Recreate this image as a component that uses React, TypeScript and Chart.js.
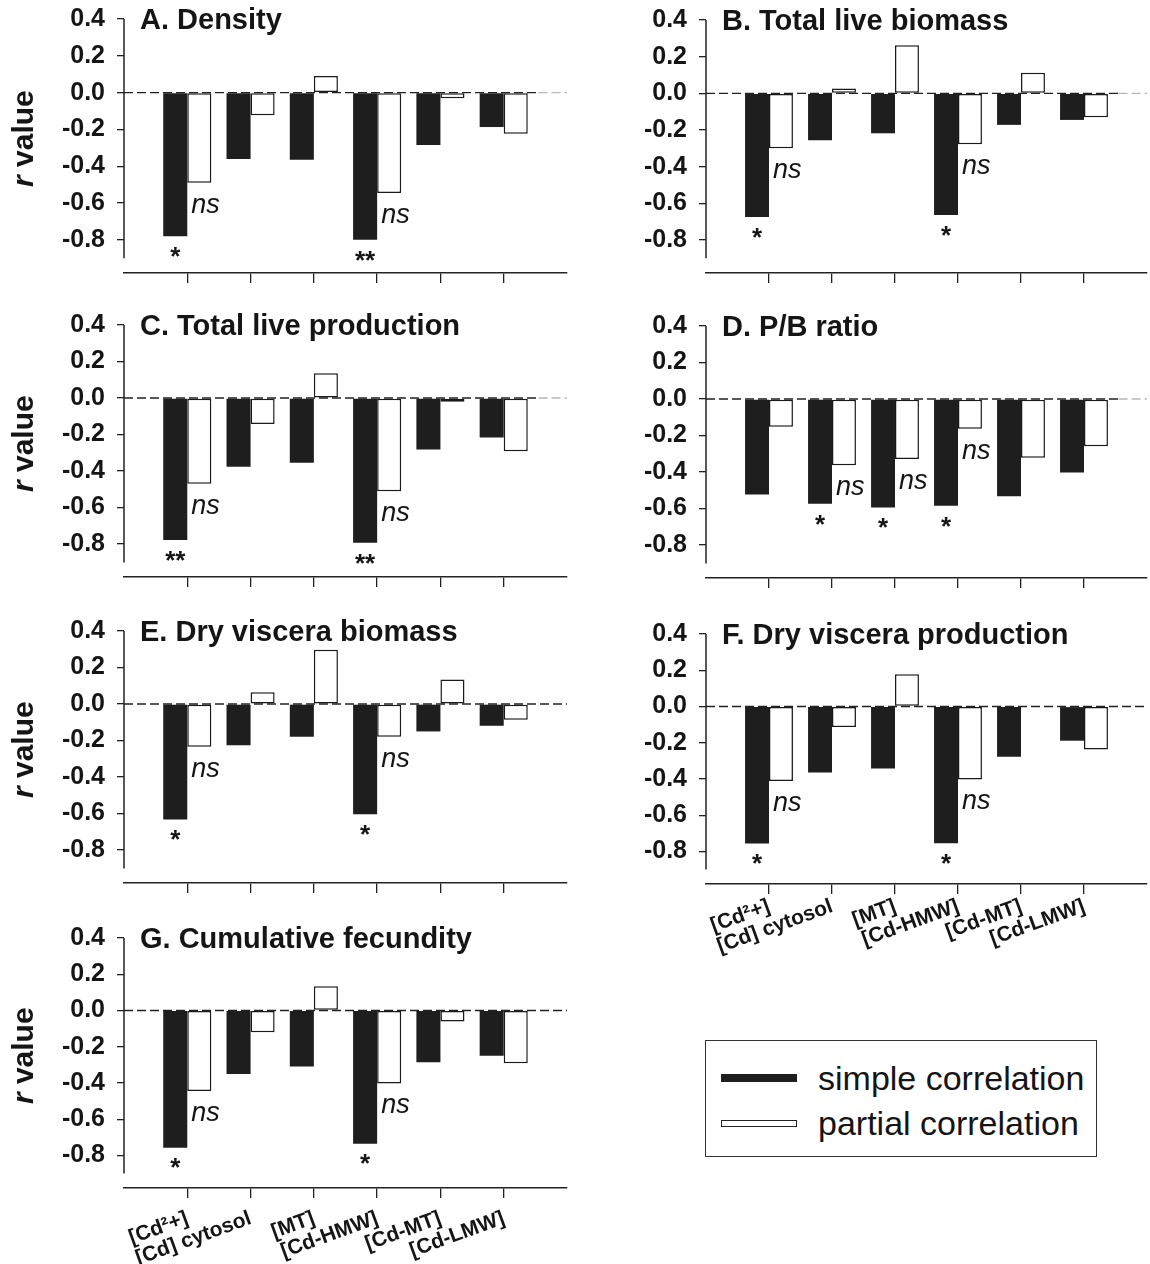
import React, { useEffect, useRef } from 'react';
import { Chart, registerables } from 'chart.js';

Chart.register(...registerables);

const FONT = '"Liberation Sans", Arial, Helvetica, sans-serif';

const CATEGORIES = ['[Cd²+]', '[Cd] cytosol', '[MT]', '[Cd-HMW]', '[Cd-MT]', '[Cd-LMW]'];
const Y_TICKS = [-0.8, -0.6, -0.4, -0.2, 0.0, 0.2, 0.4];

const A_SIMPLE = [-0.78, -0.36, -0.365, -0.8, -0.285, -0.187];
const A_PARTIAL = [-0.49, -0.123, 0.09, -0.546, -0.031, -0.223];
const A_SIMPLE_SIG = ['*', '', '', '**', '', ''];
const A_PARTIAL_SIG = ['ns', '', '', 'ns', '', ''];

const B_SIMPLE = [-0.674, -0.256, -0.218, -0.663, -0.172, -0.145];
const B_PARTIAL = [-0.3, 0.027, 0.262, -0.278, 0.112, -0.13];
const B_SIMPLE_SIG = ['*', '', '', '*', '', ''];
const B_PARTIAL_SIG = ['ns', '', '', 'ns', '', ''];

const C_SIMPLE = [-0.778, -0.376, -0.355, -0.793, -0.282, -0.216];
const C_PARTIAL = [-0.469, -0.142, 0.136, -0.511, -0.02, -0.291];
const C_SIMPLE_SIG = ['**', '', '', '**', '', ''];
const C_PARTIAL_SIG = ['ns', '', '', 'ns', '', ''];

const D_SIMPLE = [-0.523, -0.574, -0.594, -0.585, -0.532, -0.402];
const D_PARTIAL = [-0.152, -0.362, -0.329, -0.163, -0.322, -0.259];
const D_SIMPLE_SIG = ['', '*', '*', '*', '', ''];
const D_PARTIAL_SIG = ['', 'ns', 'ns', 'ns', '', ''];

const E_SIMPLE = [-0.632, -0.225, -0.179, -0.604, -0.15, -0.119];
const E_PARTIAL = [-0.234, 0.064, 0.298, -0.179, 0.134, -0.086];
const E_SIMPLE_SIG = ['*', '', '', '*', '', ''];
const E_PARTIAL_SIG = ['ns', '', '', 'ns', '', ''];

const F_SIMPLE = [-0.756, -0.364, -0.342, -0.755, -0.277, -0.189];
const F_PARTIAL = [-0.412, -0.114, 0.178, -0.403, 0.0, -0.238];
const F_SIMPLE_SIG = ['*', '', '', '*', '', ''];
const F_PARTIAL_SIG = ['ns', '', '', 'ns', '', ''];

const G_SIMPLE = [-0.758, -0.351, -0.31, -0.736, -0.286, -0.25];
const G_PARTIAL = [-0.444, -0.12, 0.133, -0.403, -0.061, -0.292];
const G_SIMPLE_SIG = ['*', '', '', '*', '', ''];
const G_PARTIAL_SIG = ['ns', '', '', 'ns', '', ''];

const LEGEND_LABELS = ['simple correlation', 'partial correlation'];

type PanelCfg = {
  title: string;
  simple: number[];
  partial: number[];
  simpleSig: string[];
  partialSig: string[];
  left: number;
  top: number;
  width: number;
  plotH: number;
  yAxisW: number;
  padRight: number;
  xAxisH: number;
  labelPad: number;
  showXLabels: boolean;
  showYTitle: boolean;
  greyTail: boolean;
};

const LEFT = { left: 0, width: 580, yAxisW: 124, padRight: 13 };
const RIGHT = { left: 580, width: 570, yAxisW: 126, padRight: 3 };
const PAD_TOP = 19;

const PANELS: PanelCfg[] = [
  { title: 'A. Density', simple: A_SIMPLE, partial: A_PARTIAL, simpleSig: A_SIMPLE_SIG, partialSig: A_PARTIAL_SIG, ...LEFT, top: 0, plotH: 254, xAxisH: 16, labelPad: 0, showXLabels: false, showYTitle: true, greyTail: true },
  { title: 'B. Total live biomass', simple: B_SIMPLE, partial: B_PARTIAL, simpleSig: B_SIMPLE_SIG, partialSig: B_PARTIAL_SIG, ...RIGHT, top: 1, plotH: 253, xAxisH: 16, labelPad: 0, showXLabels: false, showYTitle: false, greyTail: true },
  { title: 'C. Total live production', simple: C_SIMPLE, partial: C_PARTIAL, simpleSig: C_SIMPLE_SIG, partialSig: C_PARTIAL_SIG, ...LEFT, top: 306, plotH: 252, xAxisH: 16, labelPad: 0, showXLabels: false, showYTitle: true, greyTail: true },
  { title: 'D. P/B ratio', simple: D_SIMPLE, partial: D_PARTIAL, simpleSig: D_SIMPLE_SIG, partialSig: D_PARTIAL_SIG, ...RIGHT, top: 307, plotH: 252, xAxisH: 16, labelPad: 0, showXLabels: false, showYTitle: false, greyTail: true },
  { title: 'E. Dry viscera biomass', simple: E_SIMPLE, partial: E_PARTIAL, simpleSig: E_SIMPLE_SIG, partialSig: E_PARTIAL_SIG, ...LEFT, top: 612, plotH: 252, xAxisH: 16, labelPad: 0, showXLabels: false, showYTitle: true, greyTail: false },
  { title: 'F. Dry viscera production', simple: F_SIMPLE, partial: F_PARTIAL, simpleSig: F_SIMPLE_SIG, partialSig: F_PARTIAL_SIG, ...RIGHT, top: 615, plotH: 250, xAxisH: 100, labelPad: 0, showXLabels: true, showYTitle: false, greyTail: false },
  { title: 'G. Cumulative fecundity', simple: G_SIMPLE, partial: G_PARTIAL, simpleSig: G_SIMPLE_SIG, partialSig: G_PARTIAL_SIG, ...LEFT, top: 919, plotH: 250, xAxisH: 95, labelPad: 8, showXLabels: true, showYTitle: true, greyTail: false },
];

function makeDecor(cfg: PanelCfg) {
  return {
    id: 'decor',
    beforeDatasetsDraw(chart: any) {
      const { ctx, chartArea, scales } = chart;
      const x = scales.x;
      const y = scales.y;
      const y0 = y.getPixelForValue(0);
      ctx.save();
      ctx.lineWidth = 1.4;
      ctx.setLineDash([9, 4]);
      ctx.strokeStyle = '#222';
      const xEnd = cfg.greyTail ? x.getPixelForValue(5.55) : chartArea.right;
      ctx.beginPath();
      ctx.moveTo(chartArea.left, y0);
      ctx.lineTo(xEnd, y0);
      ctx.stroke();
      if (cfg.greyTail) {
        ctx.strokeStyle = '#b8b8b8';
        ctx.beginPath();
        ctx.moveTo(xEnd, y0);
        ctx.lineTo(chartArea.right, y0);
        ctx.stroke();
      }
      ctx.restore();
    },
    afterDatasetsDraw(chart: any) {
      const { ctx, chartArea, scales } = chart;
      const y = scales.y;
      ctx.save();
      // y axis line from 0.4 down to -0.9
      ctx.strokeStyle = '#222';
      ctx.lineWidth = 1.5;
      ctx.beginPath();
      ctx.moveTo(chartArea.left, y.getPixelForValue(0.4));
      ctx.lineTo(chartArea.left, y.getPixelForValue(-0.9));
      ctx.stroke();

      ctx.fillStyle = '#151515';
      // panel title
      ctx.font = `bold 29px ${FONT}`;
      ctx.textAlign = 'left';
      ctx.textBaseline = 'alphabetic';
      ctx.fillText(cfg.title, chartArea.left + 16, chartArea.top + 10);

      // y title "r value"
      if (cfg.showYTitle) {
        const cy = (y.getPixelForValue(0.4) + y.getPixelForValue(-0.9)) / 2;
        ctx.save();
        ctx.translate(25, cy);
        ctx.rotate(-Math.PI / 2);
        const fItal = `italic bold 30px ${FONT}`;
        const fBold = `bold 30px ${FONT}`;
        ctx.font = fItal;
        const w1 = ctx.measureText('r').width;
        ctx.font = fBold;
        const w2 = ctx.measureText(' value').width;
        const start = -(w1 + w2) / 2;
        ctx.textBaseline = 'middle';
        ctx.font = fItal;
        ctx.fillText('r', start, 0);
        ctx.font = fBold;
        ctx.fillText(' value', start + w1, 0);
        ctx.restore();
      }

      // significance marks
      const m0 = chart.getDatasetMeta(0);
      const m1 = chart.getDatasetMeta(1);
      cfg.simpleSig.forEach((s, i) => {
        if (!s) return;
        const bar = m0.data[i];
        const yy = y.getPixelForValue(cfg.simple[i] - 0.075);
        ctx.font = `bold 26px ${FONT}`;
        ctx.textAlign = 'center';
        ctx.textBaseline = 'alphabetic';
        ctx.fillText(s, bar.x, yy + 26 * 0.58);
      });
      cfg.partialSig.forEach((s, i) => {
        if (!s) return;
        const bar = m1.data[i];
        const yy = y.getPixelForValue(cfg.partial[i] - 0.125);
        ctx.font = `italic 27px ${FONT}`;
        ctx.textAlign = 'left';
        ctx.textBaseline = 'alphabetic';
        ctx.fillText(s, bar.x - bar.width / 2 + 4, yy + 27 * 0.26);
      });
      ctx.restore();
    },
  };
}

function Panel({ cfg }: { cfg: PanelCfg }) {
  const ref = useRef<HTMLCanvasElement | null>(null);
  const height = PAD_TOP + cfg.plotH + cfg.xAxisH;
  useEffect(() => {
    if (!ref.current) return;
    const chart = new Chart(ref.current, {
      type: 'bar',
      data: {
        datasets: [
          {
            label: LEGEND_LABELS[0],
            data: cfg.simple.map((v, i) => ({ x: i, y: v })),
            backgroundColor: '#1e1e1e',
            borderWidth: 0,
            categoryPercentage: 0.76,
            barPercentage: 1,
          },
          {
            label: LEGEND_LABELS[1],
            data: cfg.partial.map((v, i) => ({ x: i, y: v })),
            backgroundColor: '#ffffff',
            borderColor: '#1a1a1a',
            borderWidth: 1.5,
            borderSkipped: false,
            categoryPercentage: 0.76,
            barPercentage: 1,
          },
        ] as any,
      },
      options: {
        responsive: false,
        animation: false,
        events: [],
        layout: { padding: { top: PAD_TOP, right: cfg.padRight, bottom: 0, left: 0 } },
        plugins: { legend: { display: false }, tooltip: { enabled: false } },
        scales: {
          x: {
            type: 'linear',
            min: -1,
            max: 6,
            bounds: 'data',
            offset: false,
            afterBuildTicks: (s: any) => {
              s.ticks = CATEGORIES.map((_, i) => ({ value: i }));
            },
            afterFit: (s: any) => {
              s.height = cfg.xAxisH;
              s.paddingLeft = 0;
              s.paddingRight = 0;
            },
            grid: { offset: false, drawOnChartArea: false, drawTicks: true, tickLength: 10, color: '#222', lineWidth: 1.3 },
            border: { display: true, color: '#222', width: 1.5 },
            ticks: {
              display: cfg.showXLabels,
              autoSkip: false,
              maxRotation: 20,
              minRotation: 20,
              padding: cfg.labelPad,
              color: '#151515',
              font: { family: FONT, size: 21, weight: 'bold' },
              callback: (v: any) => CATEGORIES[v as number] ?? '',
            },
          },
          y: {
            type: 'linear',
            min: -0.98,
            max: 0.4,
            bounds: 'data',
            afterBuildTicks: (s: any) => {
              s.ticks = Y_TICKS.map((v) => ({ value: v }));
            },
            afterFit: (s: any) => {
              s.width = cfg.yAxisW;
              s.paddingTop = 0;
              s.paddingBottom = 0;
            },
            grid: { drawOnChartArea: false, drawTicks: true, tickLength: 7, color: '#222', lineWidth: 1.3 },
            border: { display: false },
            ticks: {
              padding: 12,
              color: '#151515',
              font: { family: FONT, size: 25, weight: 'bold' },
              callback: (v: any) => Number(v).toFixed(1),
            },
          },
        },
      } as any,
      plugins: [makeDecor(cfg)],
    });
    return () => chart.destroy();
  }, []);
  return (
    <canvas
      ref={ref}
      width={cfg.width}
      height={height}
      style={{ position: 'absolute', left: cfg.left, top: cfg.top, width: cfg.width, height }}
    />
  );
}

function Legend() {
  const textStyle: React.CSSProperties = {
    position: 'absolute',
    left: 112,
    fontFamily: FONT,
    fontSize: 34,
    color: '#151515',
    lineHeight: '40px',
    whiteSpace: 'nowrap',
  };
  return (
    <div
      style={{
        position: 'absolute',
        left: 705,
        top: 1040,
        width: 390,
        height: 115,
        border: '1.5px solid #333',
        background: '#fff',
      }}
    >
      <div style={{ position: 'absolute', left: 15, top: 33, width: 76, height: 8, background: '#1e1e1e' }} />
      <div style={{ ...textStyle, top: 17 }}>{LEGEND_LABELS[0]}</div>
      <div style={{ position: 'absolute', left: 15, top: 79, width: 74, height: 5, border: '1.5px solid #222', background: '#fff' }} />
      <div style={{ ...textStyle, top: 62 }}>{LEGEND_LABELS[1]}</div>
    </div>
  );
}

export default function App() {
  return (
    <div style={{ position: 'absolute', left: 0, top: 0, width: 1150, height: 1264, background: '#fff', overflow: 'hidden' }}>
      {PANELS.map((p) => (
        <Panel key={p.title} cfg={p} />
      ))}
      <Legend />
    </div>
  );
}
